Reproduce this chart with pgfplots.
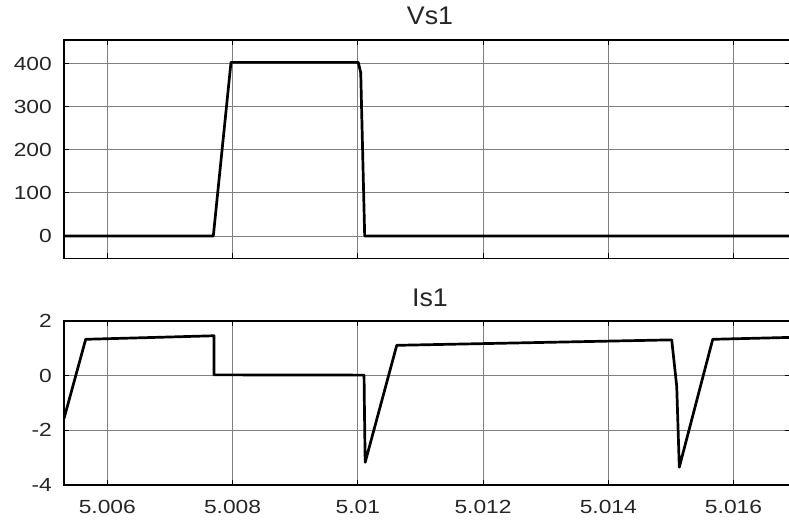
\documentclass[border=0pt]{standalone}
\usepackage{fontspec}
\setmainfont{Liberation Sans}
\newfontfamily\tickfont{Liberation Sans}[FakeStretch=1.2]
\newfontfamily\titlefont{Liberation Sans}[FakeStretch=1.05]
\usepackage{pgfplots}
\pgfplotsset{compat=1.18}
\begin{document}
\begin{tikzpicture}
\useasboundingbox (0pt,0pt) rectangle (789pt,522pt);
\pgfplotsset{
  myax/.style={
    scale only axis,
    width=726pt,
    xmin=5.3085, xmax=16.902,
    xtick={6,8,10,12,14,16},
    grid=major,
    major grid style={black!50, line width=0.8pt},
    axis line style={black, line width=1.3pt},
    tick align=inside,
    major tick length=5pt,
    tick style={black, line width=1pt},
    ticklabel style={font=\tickfont\fontsize{19}{19}\selectfont, text=black!85},
    /pgf/number format/assume math mode=true,
    yticklabel style={inner sep=0pt, xshift=-12pt},
    xticklabel style={inner sep=0pt, yshift=-15pt},
    title style={font=\titlefont\fontsize{25.5}{25.5}\selectfont, text=black!85, at={(0.5,1)}, anchor=base, xshift=3pt, yshift=9pt},
  }
}
\begin{axis}[myax,
  at={(64pt,263.7pt)}, anchor=south west,
  height=218.3pt,
  ymin=-52, ymax=455,
  ytick={0,100,200,300,400},
  yticklabels={0,100,200,300,400},
  xticklabels={},
  title={Vs1}]
\addplot[black, line width=2.7pt, line join=round] coordinates {
(5.3085,0) (7.693,0) (7.975,403) (10.008,403) (10.047,379) (10.110,0) (16.902,0)
};
\end{axis}
\begin{axis}[myax,
  at={(64pt,37pt)}, anchor=south west,
  height=164pt,
  ymin=-4, ymax=2,
  ytick={-4,-2,0,2},
  yticklabels={-4,-2,0,2},
  xticklabels={5.006,5.008,5.01,5.012,5.014,5.016},
  title={Is1}, title style={yshift=-0.3pt}]
\addplot[black, line width=2.7pt, line join=round] coordinates {
(5.3085,-1.57) (5.655,1.33) (7.704,1.46) (7.704,0.03) (10.100,0.02) (10.106,-1.2) (10.118,-3.17) (10.622,1.11) (15.013,1.31) (15.093,-0.39) (15.134,-3.35) (15.668,1.33) (16.902,1.40)
};
\end{axis}
\end{tikzpicture}
\end{document}
